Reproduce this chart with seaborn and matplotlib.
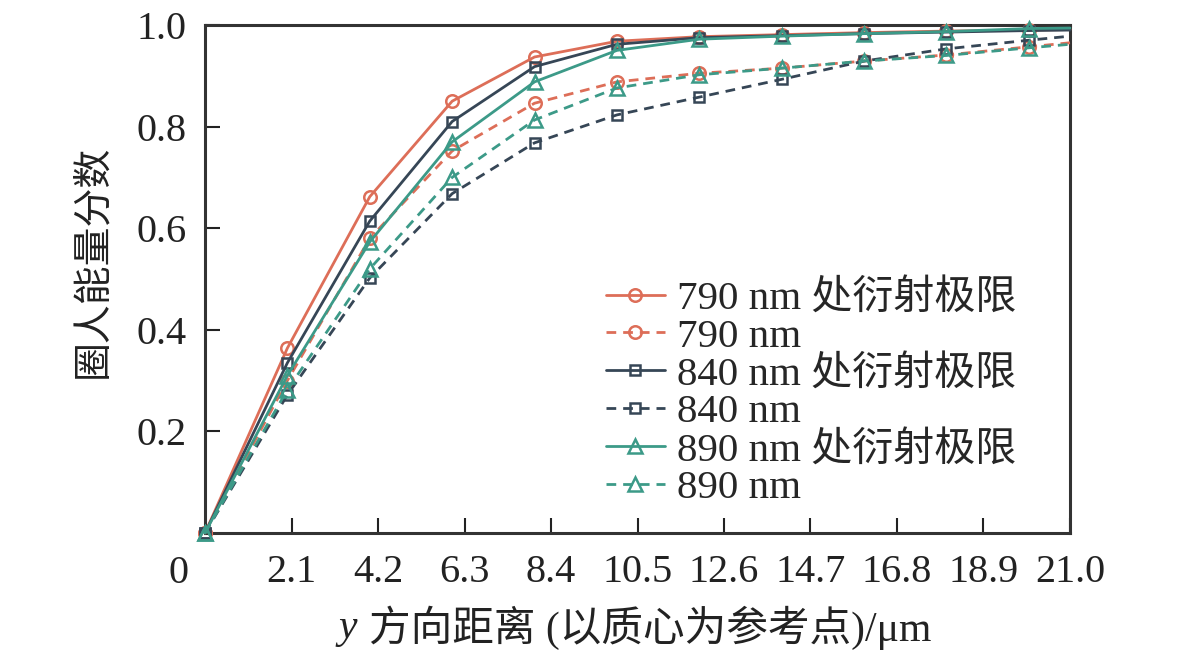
import numpy as np
import pandas as pd
import matplotlib
matplotlib.use("Agg")
import matplotlib.pyplot as plt
import seaborn as sns

# distance along y (um), marker every 2 um, last point only for the line end
dist = [0, 2, 4, 6, 8, 10, 12, 14, 16, 18, 20, 21]

ee_790_dl = [0, 0.364, 0.662, 0.850, 0.937, 0.968, 0.977, 0.981, 0.985, 0.988, 0.990, 0.991]
ee_790 = [0, 0.300, 0.580, 0.752, 0.846, 0.888, 0.905, 0.915, 0.929, 0.941, 0.957, 0.965]
ee_840_dl = [0, 0.335, 0.614, 0.810, 0.918, 0.962, 0.975, 0.979, 0.983, 0.986, 0.989, 0.990]
ee_840 = [0, 0.272, 0.502, 0.668, 0.768, 0.823, 0.858, 0.893, 0.929, 0.953, 0.970, 0.978]
ee_890_dl = [0, 0.310, 0.573, 0.770, 0.888, 0.950, 0.972, 0.978, 0.983, 0.987, 0.993, 0.994]
ee_890 = [0, 0.282, 0.520, 0.700, 0.813, 0.876, 0.902, 0.915, 0.929, 0.940, 0.955, 0.962]

labels = ["790 nm 处衍射极限", "790 nm", "840 nm 处衍射极限", "840 nm",
          "890 nm 处衍射极限", "890 nm"]
series = [ee_790_dl, ee_790, ee_840_dl, ee_840, ee_890_dl, ee_890]

xticks = [2.1, 4.2, 6.3, 8.4, 10.5, 12.6, 14.7, 16.8, 18.9, 21.0]
yticks = [0.2, 0.4, 0.6, 0.8, 1.0]

red = "#DD6E58"
dark = "#364656"
teal = "#3C9A88"
colors = [red, red, dark, dark, teal, teal]
marks = ["o", "o", "s", "s", "^", "^"]
msizes = [9, 9, 7.5, 7.5, 9.5, 9.5]
dash = (0, (3.5, 2.5))
styles = ["-", dash, "-", dash, "-", dash]

sns.set_style("ticks")
plt.rcParams["font.family"] = ["Liberation Serif", "Noto Sans CJK SC"]
plt.rcParams["axes.unicode_minus"] = False

fig = plt.figure(figsize=(11.81, 6.54), dpi=100)
ax = fig.add_axes([0.1736, 0.185, 0.7324, 0.7768])

for vals, lab, c, m, ms, ls in zip(series, labels, colors, marks, msizes, styles):
    df = pd.DataFrame({"x": dist, "y": vals})
    sns.lineplot(data=df, x="x", y="y", ax=ax, color=c, marker=m, markersize=ms,
                 linestyle=ls, linewidth=2.0, mfc="none", mec=c, mew=1.8,
                 markevery=list(range(11)), label=lab, clip_on=False, zorder=3)

ax.set_xlim(0, 21)
ax.set_ylim(0, 1.0)
ax.set_xticks(xticks)
ax.set_xticklabels([f"{t:.1f}" for t in xticks])
ax.set_yticks(yticks)
ax.set_yticklabels([f"{t:.1f}" for t in yticks])
ax.tick_params(direction="in", length=11, width=1.5, labelsize=29,
               colors="#222222", labelcolor="#222222")
ax.tick_params(axis="x", pad=15)
ax.tick_params(axis="y", pad=13.5)
for sp in ax.spines.values():
    sp.set_linewidth(2.2)
    sp.set_color("#333333")
    sp.set_visible(True)

# shared origin label
ax.text(-0.031, -0.043, "0", transform=ax.transAxes, ha="center", va="top",
        fontsize=29, color="#222222")

ax.set_ylabel("圈人能量分数", fontsize=28, color="#222222")
ax.yaxis.set_label_coords(-0.106, 0.535)
ax.set_xlabel("方向距离 (以质心为参考点)/μm", fontsize=30, color="#222222")
ax.xaxis.set_label_coords(0.515, -0.143)
ax.annotate("y", xy=(0, 0.5), xycoords=ax.xaxis.label, xytext=(-9, 0),
            textcoords="offset points", ha="right", va="center",
            fontsize=30, style="italic", color="#222222")

ax.legend(loc="upper left", bbox_to_anchor=(0.463, 0.498), frameon=False,
          fontsize=29.5, handlelength=1.45, handletextpad=0.3, labelspacing=0,
          borderaxespad=0, borderpad=0)

fig.savefig("out.png", dpi=100)
